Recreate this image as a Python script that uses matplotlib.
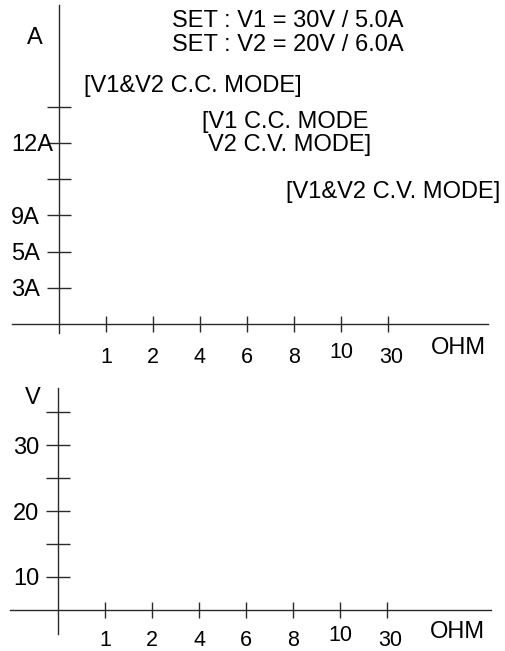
import matplotlib.pyplot as plt
from matplotlib.transforms import ScaledTranslation

plt.rcParams['font.family'] = ['Liberation Sans', 'DejaVu Sans']

# chart data
ohm_labels = ['1', '2', '4', '6', '8', '10', '30']
amp_labels = ['3A', '5A', '9A', '', '12A', '']
volt_labels = ['10', '', '20', '', '30', '']
set_lines = ['SET : V1 = 30V / 5.0A', 'SET : V2 = 20V / 6.0A']
mode_cc = '[V1&V2 C.C. MODE]'
mode_mix = ['[V1 C.C. MODE', 'V2 C.V. MODE]']
mode_cv = '[V1&V2 C.V. MODE]'

W, H = 505, 651
fig = plt.figure(figsize=(W / 100, H / 100), dpi=100)


def px(x, y):
    # pixel position -> figure fraction
    return x / W, 1 - y / H


def axes_box(left, top, right, bottom):
    return [left / W, 1 - bottom / H, (right - left) / W, (bottom - top) / H]


def shift(label, dx, dy):
    # nudge a tick label by dx, dy pixels
    label.set_transform(label.get_transform() +
                        ScaledTranslation(dx / 100, -dy / 100, fig.dpi_scale_trans))


def style_axes(ax, ylabels, xlim, ylim, xpad, ypad):
    xpos = list(range(1, len(ohm_labels) + 1))
    ypos = list(range(1, len(ylabels) + 1))
    ax.set_xlim(*xlim)
    ax.set_ylim(*ylim)
    for side in ['top', 'right']:
        ax.spines[side].set_visible(False)
    for side in ['left', 'bottom']:
        ax.spines[side].set_position(('data', 0))
        ax.spines[side].set_color('#2a2a2a')
        ax.spines[side].set_linewidth(1.0)
    ax.set_xticks(xpos)
    ax.set_xticklabels(ohm_labels)
    ax.set_yticks(ypos)
    ax.set_yticklabels(ylabels)
    ax.tick_params(axis='x', direction='inout', length=11.5, width=1.0,
                   color='#2a2a2a', pad=xpad, labelsize=15.5)
    ax.tick_params(axis='y', direction='inout', length=17, width=1.0,
                   color='#2a2a2a', pad=ypad, labelsize=17)
    ax.patch.set_visible(False)
    xl = ax.get_xticklabels()
    shift(xl[5], 0, -5)   # "10" sits a little higher
    shift(xl[6], 3, 0)    # "30" a little to the right


# top panel: current vs load
ax1 = fig.add_axes(axes_box(12, 5, 488, 333))
style_axes(ax1, amp_labels, (-1.0, 9.13), (-0.25, 8.81), 11, 5)
shift(ax1.get_yticklabels()[4], 13, 0)  # "12A" runs into its tick

# bottom panel: voltage vs load
ax2 = fig.add_axes(axes_box(10, 388, 491, 634))
style_axes(ax2, volt_labels, (-1.02, 9.21), (-0.73, 6.73), 9, 5)

fs = 17
fig.text(*px(35, 38), 'A', fontsize=fs, ha='center', va='center')
fig.text(*px(33, 398), 'V', fontsize=fs, ha='center', va='center')
fig.text(*px(458, 348), 'OHM', fontsize=fs, ha='center', va='center')
fig.text(*px(457, 632), 'OHM', fontsize=fs, ha='center', va='center')

fig.text(*px(288, 21), set_lines[0], fontsize=fs, ha='center', va='center')
fig.text(*px(288, 45), set_lines[1], fontsize=fs, ha='center', va='center')

fig.text(*px(84, 86), mode_cc, fontsize=fs, ha='left', va='center')
fig.text(*px(202, 122), mode_mix[0], fontsize=fs, ha='left', va='center')
fig.text(*px(208, 145), mode_mix[1], fontsize=fs, ha='left', va='center')
fig.text(*px(286, 192), mode_cv, fontsize=fs, ha='left', va='center')

fig.savefig('out.png', dpi=100, facecolor='white')
